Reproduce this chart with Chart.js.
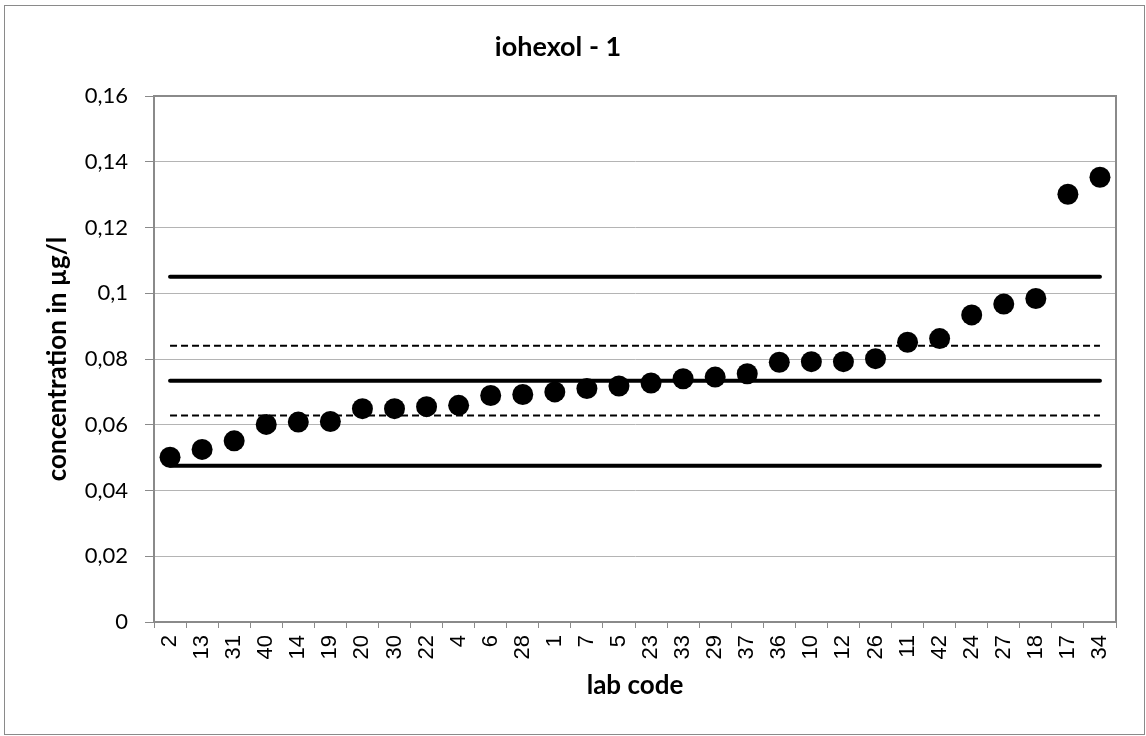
<!DOCTYPE html>
<html>
<head>
<meta charset="utf-8">
<script src="https://cdn.jsdelivr.net/npm/chart.js@4/dist/chart.umd.min.js"></script>
<style>
  body { margin: 0; background: #fff; }
  #wrap { width: 1146px; height: 736px; }
</style>
</head>
<body>
<div id="wrap"><canvas id="myChart" width="1146" height="736"></canvas></div>
<script>
// lab codes, sorted by reported value
const labCodes = ['2', '13', '31', '40', '14', '19', '20', '30', '22', '4', '6', '28', '1', '7', '5',
  '23', '33', '29', '37', '36', '10', '12', '26', '11', '42', '24', '27', '18', '17', '34'];
const concentrations = [0.0501, 0.0525, 0.0551, 0.0601, 0.0608, 0.0610, 0.0649, 0.0649, 0.0655, 0.0659,
  0.0689, 0.0692, 0.0700, 0.0710, 0.0718, 0.0727, 0.0740, 0.0745, 0.0755, 0.0790,
  0.0792, 0.0792, 0.0801, 0.0851, 0.0862, 0.0934, 0.0967, 0.0984, 0.1301, 0.1353];

// horizontal reference lines
const meanValue = 0.0734;
const upperLimit = 0.105;
const lowerLimit = 0.0475;
const upperDev = 0.084;
const lowerDev = 0.0628;

const yTicks = { min: 0, max: 0.16, step: 0.02 };

const firstLab = labCodes[0];
const lastLab = labCodes[labCodes.length - 1];

const hLine = (value, dashed) => ({
  data: [{ x: firstLab, y: value }, { x: lastLab, y: value }],
  borderColor: '#000',
  borderWidth: dashed ? 2 : 4,
  borderDash: dashed ? [7, 4] : [],
  borderCapStyle: dashed ? 'butt' : 'round',
  pointRadius: 0,
  fill: false,
});

const frame = {
  id: 'frame',
  beforeDraw(chart) {
    const ctx = chart.ctx;
    ctx.save();
    ctx.fillStyle = '#fff';
    ctx.fillRect(0, 0, chart.width, chart.height);
    ctx.restore();
  },
  afterDraw(chart) {
    const ctx = chart.ctx;
    const a = chart.chartArea;
    ctx.save();
    ctx.strokeStyle = '#8a8a8a';
    ctx.lineWidth = 2;
    ctx.beginPath();
    ctx.moveTo(a.left, a.top);
    ctx.lineTo(a.right, a.top);
    ctx.lineTo(a.right, a.bottom);
    ctx.stroke();
    ctx.lineWidth = 1;
    ctx.strokeRect(4.5, 5.5, 1140, 729);
    ctx.restore();
  }
};

const ctx = document.getElementById('myChart');
new Chart(ctx, {
  type: 'line',
  data: {
    labels: labCodes,
    datasets: [
      {
        data: concentrations,
        showLine: false,
        pointRadius: 10.5,
        pointBackgroundColor: '#000',
        pointBorderWidth: 0,
        borderColor: '#000',
        clip: false,
      },
      hLine(upperLimit, false),
      hLine(upperDev, true),
      hLine(meanValue, false),
      hLine(lowerDev, true),
      hLine(lowerLimit, false),
    ],
  },
  options: {
    responsive: false,
    animation: false,
    layout: { padding: { left: 0, right: 30, top: 0, bottom: 0 } },
    plugins: {
      legend: { display: false },
      tooltip: { enabled: false },
      title: {
        display: true,
        text: 'iohexol - 1',
        color: '#000',
        font: { family: 'Lato', size: 27, weight: 'bold', lineHeight: 1.2 },
        padding: { top: 31, bottom: 32.6 },
      },
    },
    scales: {
      x: {
        type: 'category',
        offset: true,
        grid: {
          display: true,
          offset: true,
          drawOnChartArea: false,
          drawTicks: true,
          tickLength: 6,
          tickColor: '#8a8a8a',
        },
        border: { display: true, color: '#8a8a8a', width: 2 },
        ticks: {
          autoSkip: false,
          maxRotation: 90,
          minRotation: 90,
          padding: 7,
          color: '#000',
          font: { family: '"Liberation Sans", Arial, sans-serif', size: 22 },
        },
        title: {
          display: true,
          text: 'lab code',
          color: '#000',
          font: { family: 'Lato', size: 26, weight: 'bold', lineHeight: 1.2 },
          padding: { top: 0, bottom: 35 },
        },
        afterFit(scale) { scale.height = 114; },
      },
      y: {
        min: yTicks.min,
        max: yTicks.max,
        grid: {
          color: '#b4b4b4',
          lineWidth: 1,
          drawTicks: true,
          tickLength: 9,
          tickColor: '#8a8a8a',
        },
        border: { display: true, color: '#8a8a8a', width: 2 },
        ticks: {
          stepSize: yTicks.step,
          padding: 17,
          color: '#000',
          font: { family: 'Lato', size: 22 },
          callback: (v) => String(+v.toFixed(2)).replace('.', ','),
        },
        title: {
          display: true,
          text: 'concentration in µg/l',
          color: '#000',
          font: { family: 'Lato', size: 26, weight: 'bold', lineHeight: 1.2 },
          padding: { top: 42, bottom: 0 },
        },
        afterFit(scale) { scale.width = 154; },
      },
    },
  },
  plugins: [frame],
});
</script>
</body>
</html>
